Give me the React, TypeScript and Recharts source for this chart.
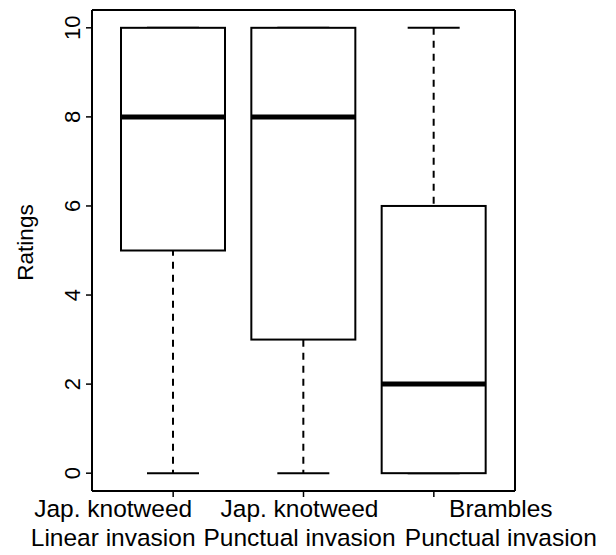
import { ComposedChart, Bar, XAxis, YAxis } from 'recharts';

const SPECIES = ['Jap. knotweed', 'Jap. knotweed', 'Brambles'];
const INVASION = ['Linear invasion', 'Punctual invasion', 'Punctual invasion'];
const MINS = [0, 0, 0];
const Q1S = [5, 3, 0];
const MEDIANS = [8, 8, 2];
const Q3S = [10, 10, 6];
const MAXS = [10, 10, 10];
const Y_TICKS = [0, 2, 4, 6, 8, 10];

// in the figure the two-line labels are not centred on their ticks
const LABEL_SHIFT = [-60, -4, 67];

const FONT = '"Liberation Sans", Arial, sans-serif';
const BOX_W = 104;

const data = SPECIES.map((s, i) => ({
  name: `${s} ${INVASION[i]}`,
  whisker: [MINS[i], MAXS[i]],
  box: [Q1S[i], Q3S[i]],
  median: [MEDIANS[i], MEDIANS[i]],
}));

const XTick = ({ x, y, index }: any) => {
  const lx = x + LABEL_SHIFT[index];
  return (
    <text x={lx} y={y} textAnchor="middle" fontSize={24.5} fill="#000" fontFamily={FONT}>
      <tspan x={lx} dy={18}>{SPECIES[index]}</tspan>
      <tspan x={lx} dy={29}>{INVASION[index]}</tspan>
    </text>
  );
};

const YTick = ({ x, y, payload }: any) => {
  const bx = x - 4;
  return (
    <text
      x={bx}
      y={y}
      transform={`rotate(-90 ${bx} ${y})`}
      textAnchor="middle"
      fontSize={22}
      fill="#000"
      fontFamily={FONT}
    >
      {payload.value}
    </text>
  );
};

const YLabel = ({ viewBox }: any) => {
  const lx = 33;
  const ly = viewBox.y + viewBox.height / 2 - 8;
  return (
    <text
      x={lx}
      y={ly}
      transform={`rotate(-90 ${lx} ${ly})`}
      textAnchor="middle"
      fontSize={22.5}
      fill="#000"
      fontFamily={FONT}
    >
      Ratings
    </text>
  );
};

const WhiskerShape = (props: any) => {
  const { x, y, width, height } = props;
  const top = Math.min(y, y + height);
  const bottom = Math.max(y, y + height);
  const cx = x + width / 2;
  const capL = cx - width / 4;
  const capR = cx + width / 4;
  return (
    <g>
      <line x1={cx} x2={cx} y1={top} y2={bottom} stroke="#000" strokeWidth={2} strokeDasharray="7 6" />
      <line x1={capL} x2={capR} y1={top} y2={top} stroke="#000" strokeWidth={2} />
      <line x1={capL} x2={capR} y1={bottom} y2={bottom} stroke="#000" strokeWidth={2} />
    </g>
  );
};

const BoxShape = (props: any) => {
  const { x, y, width, height } = props;
  const top = Math.min(y, y + height);
  return (
    <rect x={x} y={top} width={width} height={Math.abs(height)} fill="#fff" stroke="#000" strokeWidth={2} />
  );
};

const MedianShape = (props: any) => {
  const { x, y, width } = props;
  return <line x1={x} x2={x + width} y1={y} y2={y} stroke="#000" strokeWidth={5} />;
};

export default function App() {
  const axisLine = { stroke: '#000', strokeWidth: 2 };
  const tickLine = { stroke: '#000', strokeWidth: 1.5 };
  const pad = { left: 16, right: 16 };
  return (
    <div style={{ position: 'absolute', left: 0, top: 0, width: 616, height: 555, background: '#fff' }}>
      <ComposedChart
        width={616}
        height={555}
        data={data}
        barGap={-BOX_W}
        margin={{ top: 9, right: 100, bottom: 0, left: 0 }}
      >
        <XAxis
          xAxisId="main"
          dataKey="name"
          type="category"
          padding={pad}
          height={64}
          interval={0}
          axisLine={axisLine}
          tickLine={tickLine}
          tickSize={6}
          tick={<XTick />}
        />
        <XAxis
          xAxisId="top"
          orientation="top"
          dataKey="name"
          type="category"
          padding={pad}
          height={1}
          axisLine={axisLine}
          tickLine={false}
          tick={false}
        />
        <YAxis
          yAxisId="left"
          type="number"
          domain={[-0.4, 10.4]}
          ticks={Y_TICKS}
          width={92}
          axisLine={axisLine}
          tickLine={tickLine}
          tickSize={6}
          tick={<YTick />}
          label={<YLabel />}
        />
        <YAxis
          yAxisId="right"
          orientation="right"
          type="number"
          domain={[-0.4, 10.4]}
          width={1}
          axisLine={axisLine}
          tickLine={false}
          tick={false}
        />
        <Bar
          xAxisId="main"
          yAxisId="left"
          dataKey="whisker"
          barSize={BOX_W}
          shape={<WhiskerShape />}
          isAnimationActive={false}
        />
        <Bar
          xAxisId="main"
          yAxisId="left"
          dataKey="box"
          barSize={BOX_W}
          shape={<BoxShape />}
          isAnimationActive={false}
        />
        <Bar
          xAxisId="main"
          yAxisId="left"
          dataKey="median"
          barSize={BOX_W}
          shape={<MedianShape />}
          isAnimationActive={false}
        />
      </ComposedChart>
    </div>
  );
}
